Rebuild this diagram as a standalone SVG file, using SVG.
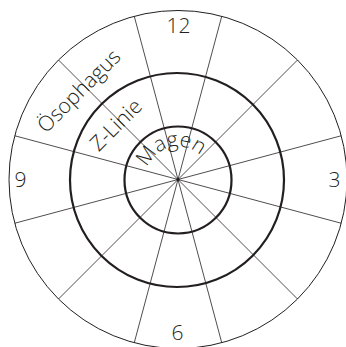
<svg xmlns="http://www.w3.org/2000/svg" width="346" height="347" viewBox="0 0 346 347">
<style>
.thin{fill:none;stroke:#231f20;stroke-width:1}
.spoke{stroke:#231f20;stroke-width:0.8}
.thick{fill:none;stroke:#231f20;stroke-width:2.2}
text{font-family:"Open Sans","Noto Sans",sans-serif;font-size:21px;font-weight:300;fill:#231f20}
</style>
<defs>
<path id="arc" d="M145.32,184.09 A33,33 0 0 1 209.39,169.3"/>
</defs>
<rect width="346" height="347" fill="#fff"/>
<g id="connectors">
<line class="spoke" x1="221.74" y1="16.26" x2="134.26" y2="342.74"/>
<line class="spoke" x1="297.5" y1="60" x2="58.5" y2="299"/>
<line class="spoke" x1="341.24" y1="135.76" x2="14.76" y2="223.24"/>
<line class="spoke" x1="341.24" y1="223.24" x2="14.76" y2="135.76"/>
<line class="spoke" x1="297.5" y1="299" x2="58.5" y2="60"/>
<line class="spoke" x1="221.74" y1="342.74" x2="134.26" y2="16.26"/>
<circle cx="178" cy="179.5" r="1.6" fill="#231f20"/>
</g>
<g id="outer"><circle class="thin" cx="178" cy="179.5" r="169"/></g>
<g id="middle"><circle class="thick" cx="177" cy="180" r="107"/></g>
<g id="inner"><circle class="thick" cx="178" cy="180" r="53.5"/></g>
<g id="labels">
<text x="178.5" y="33" text-anchor="middle">12</text>
<text x="334.5" y="187" text-anchor="middle">3</text>
<text x="177.5" y="340" text-anchor="middle">6</text>
<text x="20.5" y="187" text-anchor="middle">9</text>
<text transform="translate(84,96) rotate(-45)" text-anchor="middle">Ösophagus</text>
<text transform="translate(121,130) rotate(-45)" text-anchor="middle">Z-Linie</text>
<text font-size="22"><textPath href="#arc" startOffset="50%" text-anchor="middle">Magen</textPath></text>
</g>
</svg>
